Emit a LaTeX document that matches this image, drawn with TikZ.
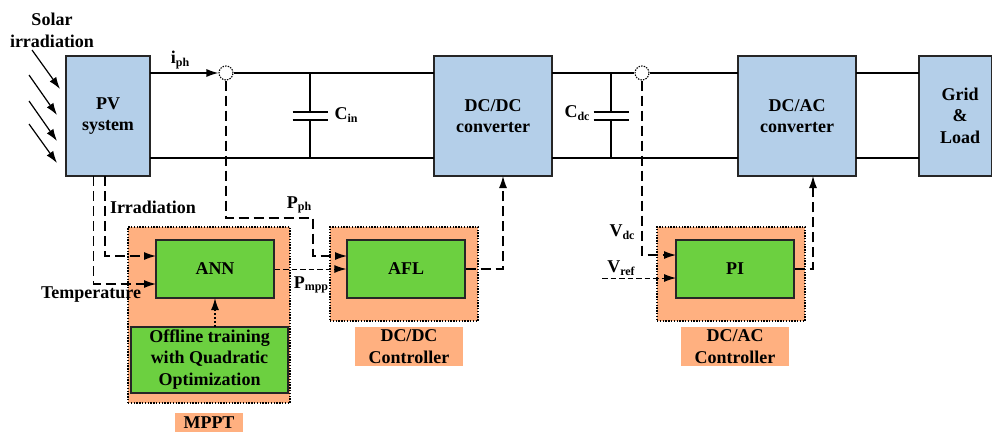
\documentclass[tikz,border=0pt]{standalone}
\usepackage{fontspec}
\setmainfont{Liberation Serif}
\usetikzlibrary{arrows.meta}
\definecolor{convblue}{RGB}{180,207,233}
\definecolor{ctrlorange}{RGB}{255,176,128}
\definecolor{algogreen}{RGB}{108,208,64}
\newcommand{\lowtxt}[1]{\raisebox{-0.3ex}{\fontsize{12}{12}\selectfont #1}}
\tikzset{
    every node/.style={font=\fontsize{18}{21.5}\selectfont\bfseries, inner sep=0pt, align=center},
    convbox/.style={draw=black!85, line width=1.3pt, fill=convblue, minimum width=118pt, minimum height=120pt},
    ctrlbox/.style={draw=black, dash pattern=on 1.4pt off 1.4pt, line width=1.2pt, fill=ctrlorange},
    algobox/.style={draw=black!85, line width=1.4pt, fill=algogreen, minimum width=118pt, minimum height=58pt},
    tagbox/.style={fill=ctrlorange, minimum width=108pt},
    wire/.style={line width=1.2pt},
    sig/.style={line width=1.15pt, dash pattern=on 10pt off 5pt},
    finesig/.style={line width=1pt, dash pattern=on 5.5pt off 3pt},
    tip/.style={-{Latex[length=12pt,width=8pt]}},
    probe/.style={circle, draw=black, dash pattern=on 1.4pt off 1.2pt, line width=1.1pt, fill=white, minimum size=14pt},
}
\begin{document}
\begin{tikzpicture}[x=1pt,y=-1pt]
    \useasboundingbox (0,0) rectangle (992,432);

    % Blocs de puissance
    \node[convbox, minimum width=84pt] (pv) at (108,116) {PV\\system};
    \node[convbox] (dcdc) at (493,116) {DC/DC\\converter};
    \node[convbox] (dcac) at (797,116) {DC/AC\\converter};
    \node[convbox, minimum width=73pt] (grid) at (955.5,116) {};
    \node (gridlbl) at (960,115.5) {Grid\\\&\\Load};

    % Points de mesure
    \node[probe] (ipt) at (226,73) {};
    \node[probe] (vpt) at (642,73) {};

    % Coordonnees des lignes
    \coordinate (pvtop) at (150,73);
    \coordinate (pvbot) at (150,158);
    \coordinate (dcdcinT) at (434,73);
    \coordinate (dcdcinB) at (434,158);
    \coordinate (dcdcoutT) at (552,73);
    \coordinate (dcdcoutB) at (552,158);
    \coordinate (dcacinT) at (738,73);
    \coordinate (dcacinB) at (738,158);
    \coordinate (dcacoutT) at (856,73);
    \coordinate (dcacoutB) at (856,158);
    \coordinate (gridT) at (919,73);
    \coordinate (gridB) at (919,158);

    % Lignes
    \draw[wire, tip] (pvtop) -- (ipt.west);
    \draw[wire] (ipt.east) -- (dcdcinT);
    \draw[wire] (pvbot) -- (dcdcinB);
    \draw[wire] (dcdcoutT) -- (vpt.west);
    \draw[wire] (vpt.east) -- (dcacinT);
    \draw[wire] (dcdcoutB) -- (dcacinB);
    \draw[wire] (dcacoutT) -- (gridT);
    \draw[wire] (dcacoutB) -- (gridB);

    % Condensateurs
    \foreach \name/\x in {cin/310, cdc/611} {
        \coordinate (\name T) at (\x,73);
        \coordinate (\name B) at (\x,158);
        \coordinate (\name U) at (\x,112);
        \coordinate (\name D) at (\x,120);
        \draw[wire] (\name T) -- (\name U);
        \draw[wire] (\name D) -- (\name B);
        \draw[wire] (\x-17.5,112) -- (\x+17.5,112);
        \draw[wire] (\x-17.5,120) -- (\x+17.5,120);
    }

    % Rayonnement
    \foreach \i/\xa/\ya/\xb/\yb in {1/32/50/60/89, 2/29/75/57/115, 3/29/101/57/141, 4/29/124/57/163} {
        \coordinate (sunA\i) at (\xa,\ya);
        \coordinate (sunB\i) at (\xb,\yb);
        \draw[wire, tip] (sunA\i) -- (sunB\i);
    }

    % Controleurs
    \node[ctrlbox, minimum width=162pt, minimum height=176pt] (mppt) at (209,315) {};
    \node[ctrlbox, minimum width=148pt, minimum height=94pt] (afldash) at (404,274) {};
    \node[ctrlbox, minimum width=148pt, minimum height=94pt] (pidash) at (731,274) {};
    \node[tagbox, minimum width=68pt, minimum height=19pt] (mppttag) at (209,422.5) {MPPT};
    \node[tagbox, minimum height=39pt] (dcdctag) at (409,346.5) {DC/DC\\Controller};
    \node[tagbox, minimum height=39pt] (dcactag) at (735,346.5) {DC/AC\\Controller};

    % Signaux
    \coordinate (irrA) at (105,176);
    \coordinate (irrB) at (105,256);
    \coordinate (irrC) at (156,256);
    \coordinate (tmpA) at (93.5,176);
    \coordinate (tmpB) at (93.5,284);
    \coordinate (tmpC) at (156,284);
    \coordinate (pphA) at (226,218);
    \coordinate (pphB) at (313,218);
    \coordinate (pphC) at (313,256);
    \coordinate (pphD) at (347,256);
    \coordinate (aflB) at (503,269);
    \coordinate (aflC) at (503,176);
    \coordinate (piB) at (813,269);
    \coordinate (piC) at (813,176);
    \coordinate (vdcA) at (642,255);
    \coordinate (vdcB) at (676,255);
    \coordinate (vrefA) at (602,278);
    \coordinate (vrefB) at (676,278);
    \draw[sig, tip] (irrA) -- (irrB) -- (irrC);
    \draw[sig, tip] (tmpA) -- (tmpB) -- (tmpC);
    \draw[sig, tip] (ipt.south) -- (pphA) -- (pphB) -- (pphC) -- (pphD);
    \draw[sig, tip] (vpt.south) -- (vdcA) -- (vdcB);
    \draw[finesig, tip] (vrefA) -- (vrefB);

    % Blocs de commande
    \node[algobox] (ann) at (215,269) {ANN};
    \node[algobox] (afl) at (406,269) {AFL};
    \node[algobox] (pi) at (735,269) {PI};
    \node[algobox, minimum width=157pt, minimum height=66pt] (offline) at (209.5,360) {};
    \node (offlbl) at (209.5,359.5) {Offline training\\with Quadratic\\Optimization};
    \coordinate (annbot) at (215,298);
    \coordinate (offtop) at (215,327);
    \draw[line width=1.4pt, dash pattern=on 2pt off 2pt, tip] (offtop) -- (annbot);
    \draw[finesig, tip] (ann.east) -- (afl.west);
    \draw[sig, tip] (afl.east) -- (aflB) -- (aflC);
    \draw[sig, tip] (pi.east) -- (piB) -- (piC);

    % Etiquettes
    \node (solarlbl) at (52,30.5) {Solar\\irradiation};
    \node (iphlbl) at (180,60) {i\lowtxt{ph}};
    \node (cinlbl) at (346,115) {C\lowtxt{in}};
    \node (cdclbl) at (577,113) {C\lowtxt{dc}};
    \node (irrlbl) at (153,207) {Irradiation};
    \node (pphlbl) at (299,205) {P\lowtxt{ph}};
    \node (templbl) at (91,295) {Temperature};
    \node (pmpplbl) at (311,285) {P\lowtxt{mpp}};
    \node (vdclbl) at (622,232) {V\lowtxt{dc}};
    \node (vreflbl) at (621,268) {V\lowtxt{ref}};
\end{tikzpicture}
\end{document}
